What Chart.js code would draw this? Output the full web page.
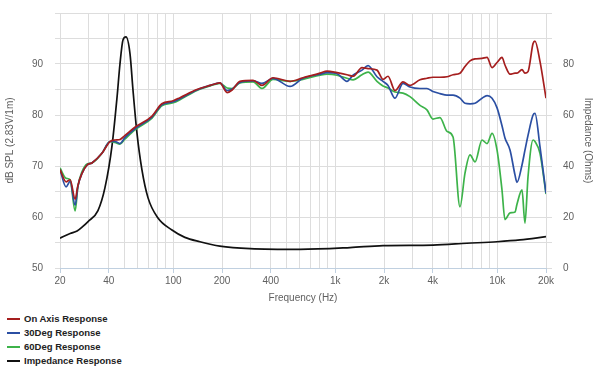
<!DOCTYPE html>
<html>
<head>
<meta charset="utf-8">
<script src="https://cdn.jsdelivr.net/npm/chart.js@4/dist/chart.umd.min.js"></script>
<style>
  body { margin: 0; background: #fff; }
  #wrap { position: relative; width: 600px; height: 371px; }
  #box { position: absolute; left: 0; top: 0; width: 600px; height: 305px; }
  #legend { position: absolute; left: 7px; top: 312px; font: bold 9.5px "Liberation Sans", Arial, sans-serif; color: #222; }
  #legend div { height: 14px; line-height: 14px; white-space: nowrap; }
  #legend span { display: inline-block; width: 13px; height: 2px; vertical-align: middle; margin-right: 4px; }
</style>
</head>
<body>
<div id="wrap">
  <div id="box"><canvas id="grafico"></canvas></div>
  <div id="legend"></div>
</div>
<script>
// frecuencias (Hz) de las curvas de respuesta
var freqSpl = [20, 21.8, 23.1, 24.8, 25.8, 27.3, 29.4, 31.5, 36.3, 40.7, 43.7, 46.9, 50.4, 58, 74, 85,
    100, 110, 140, 169, 194, 215, 231, 258, 311, 353, 413, 526, 632, 806, 890,
    1026, 1182, 1288, 1463, 1594, 1810, 1972, 2118, 2338, 2619, 2893, 3336, 3682, 4010, 4432, 4896, 5336,
    5890, 6324, 6792, 7294, 8054, 8650, 9290, 9974, 10700, 11160, 12000, 12880, 13240, 14220, 14830,
    15490, 16640, 17100, 18360, 20000];

var onAxis = [69.3, 66.9, 67.3, 63.5, 66.2, 68.5, 70.2, 70.6, 72.5, 74.8, 75.1, 75.2, 76.0, 77.6, 79.8, 82.2,
    82.8, 83.4, 85.0, 85.8, 86.3, 84.4, 84.9, 86.6, 86.8, 85.8, 87.3, 86.6, 87.3, 88.2, 88.6,
    88.3, 87.9, 87.6, 89.3, 89.1, 88.8, 87.0, 87.6, 84.8, 86.5, 85.8, 86.9, 87.2, 87.4, 87.4, 87.5, 87.9,
    88.2, 89.5, 90.6, 91.0, 91.1, 91.3, 89.3, 90.3, 91.3, 89.8, 88.0, 88.2, 88.2, 88.9, 88.2,
    88.5, 94.0, 94.5, 90.5, 83.3];

var deg30 = [69.3, 65.9, 67.0, 62.3, 66.0, 68.5, 70.2, 70.6, 72.5, 74.8, 74.8, 74.4, 75.6, 77.3, 79.6, 82.0,
    82.6, 83.2, 84.9, 85.8, 86.3, 84.8, 85.1, 86.4, 86.7, 86.2, 87.2, 85.6, 87.2, 88.0, 88.3,
    88.1, 86.6, 87.8, 88.8, 89.7, 87.5, 86.6, 85.8, 83.3, 86.2, 85.5, 85.2, 85.2, 84.6, 84.2, 83.9, 83.9,
    83.3, 82.3, 82.2, 82.3, 83.3, 83.8, 83.3, 81.4, 77.9, 75.5, 73.1, 68.2, 66.8, 70.2, 73.1,
    76.0, 80.0, 80.3, 73.8, 64.7];

var deg60 = [69.6, 67.6, 67.3, 61.2, 66.0, 68.8, 70.4, 70.6, 72.5, 74.8, 74.6, 74.3, 75.3, 77.1, 79.4, 81.8,
    82.4, 83.0, 84.8, 85.7, 86.2, 85.3, 85.2, 86.3, 86.5, 85.2, 87.0, 86.6, 87.0, 87.8, 88.0,
    87.8, 87.2, 86.9, 87.9, 88.4, 86.6, 85.7, 85.3, 84.5, 84.3, 83.6, 81.9, 81.0, 79.2, 79.5, 76.8, 75.7,
    62.0, 68.6, 72.2, 70.8, 75.1, 74.4, 76.4, 73.1, 65.3, 59.5, 60.8, 61.0, 62.5, 65.3, 58.8,
    67.9, 75.1, 74.8, 72.5, 64.5];

// impedancia
var freqZ = [20, 23.1, 25.5, 27.7, 29.8, 34.3, 37.9, 41.9, 45, 46.9, 49, 51.1, 54.1, 56.4, 59.7, 64.1,
    69.9, 80.5, 98.2, 118, 146, 194, 298, 606, 1234, 1972, 4010, 6500, 9974, 13820, 20000];
var impedancia = [11.7, 13.5, 14.5, 16.3, 18.2, 22.5, 31.5, 48, 67, 80, 89.5, 90.6, 84, 70, 53, 38.5,
    27.5, 19.6, 14.9, 12.0, 10.3, 8.6, 7.6, 7.3, 8.0, 8.8, 9.0, 9.7, 10.3, 11.0, 12.3];

var gridFreq = [20, 30, 40, 50, 60, 70, 80, 90, 100, 200, 300, 400, 500, 600, 700, 800, 900,
    1000, 2000, 3000, 4000, 5000, 6000, 7000, 8000, 9000, 10000, 20000];
var freqLabels = {20: '20', 40: '40', 100: '100', 200: '200', 400: '400', 1000: '1k', 2000: '2k', 4000: '4k', 10000: '10k', 20000: '20k'};

function puntos(xs, ys) {
    return xs.map(function (x, i) { return {x: x, y: ys[i]}; });
}

var fuente = {family: '"Liberation Sans", Arial, sans-serif', size: 10};

var series = [
    {label: 'On Axis Response', data: puntos(freqSpl, onAxis), color: '#a51e1e', eje: 'y'},
    {label: '30Deg Response', data: puntos(freqSpl, deg30), color: '#2b4fa3', eje: 'y'},
    {label: '60Deg Response', data: puntos(freqSpl, deg60), color: '#3db34a', eje: 'y'},
    {label: 'Impedance Response', data: puntos(freqZ, impedancia), color: '#111111', eje: 'y2'}
];

var grafico = new Chart(document.querySelector('#grafico'), {
    type: 'line',
    data: {
        datasets: series.map(function (s) {
            return {
                label: s.label,
                data: s.data,
                yAxisID: s.eje,
                borderColor: s.color,
                borderWidth: 1.7,
                pointRadius: 0,
                fill: false,
                cubicInterpolationMode: 'monotone'
            };
        })
    },
    options: {
        responsive: true,
        maintainAspectRatio: false,
        animation: false,
        layout: {padding: {top: 13, left: 0, right: 0, bottom: 0}},
        plugins: {legend: {display: false}, tooltip: {enabled: false}},
        scales: {
            x: {
                type: 'logarithmic',
                min: 20,
                max: 20000,
                afterBuildTicks: function (scale) {
                    scale.ticks = gridFreq.map(function (v) { return {value: v}; });
                },
                afterFit: function (scale) { scale.height = 37; },
                ticks: {
                    autoSkip: false, maxRotation: 0, padding: 2, color: '#606060', font: fuente,
                    callback: function (v) { return freqLabels[v] || ''; }
                },
                grid: {
                    color: '#dddddd', tickLength: 5,
                    tickColor: function (ctx) { return ctx.tick && freqLabels[ctx.tick.value] ? '#c0d0e0' : 'rgba(0,0,0,0)'; }
                },
                border: {color: '#c0d0e0', width: 1},
                title: {display: true, text: 'Frequency (Hz)', color: '#606060', font: fuente, padding: {top: 0, bottom: 1}}
            },
            y: {
                position: 'left',
                min: 50,
                max: 100,
                afterBuildTicks: function (scale) {
                    var t = [];
                    for (var v = 50; v <= 100; v += 5) t.push({value: v});
                    scale.ticks = t;
                },
                afterFit: function (scale) { scale.width = 60; },
                ticks: {
                    padding: 12, color: '#606060', font: fuente,
                    // la etiqueta de arriba va vacia (array) para no empujar el area del grafico
                    callback: function (v) { return v >= 100 ? [] : (v % 10 === 0 ? String(v) : ''); }
                },
                grid: {color: '#dddddd', tickLength: 5},
                border: {display: false},
                title: {display: true, text: 'dB SPL (2.83V/1m)', color: '#606060', font: fuente, padding: {top: 4, bottom: 0}}
            },
            y2: {
                position: 'right',
                min: 0,
                max: 100,
                afterBuildTicks: function (scale) {
                    var t = [];
                    for (var v = 0; v <= 100; v += 10) t.push({value: v});
                    scale.ticks = t;
                },
                afterFit: function (scale) { scale.width = 54; },
                ticks: {
                    padding: 11, color: '#606060', font: fuente,
                    callback: function (v) { return v >= 100 ? [] : (v % 20 === 0 ? String(v) : ''); }
                },
                grid: {drawOnChartArea: false, color: '#dddddd', tickLength: 6},
                border: {display: false},
                title: {display: true, text: 'Impedance (Ohms)', color: '#606060', font: fuente, padding: {top: 6, bottom: 0}}
            }
        }
    }
});

// leyenda en lista vertical
var leyenda = document.querySelector('#legend');
series.forEach(function (s) {
    var fila = document.createElement('div');
    var linea = document.createElement('span');
    linea.style.background = s.color;
    fila.appendChild(linea);
    fila.appendChild(document.createTextNode(s.label));
    leyenda.appendChild(fila);
});
</script>
</body>
</html>
